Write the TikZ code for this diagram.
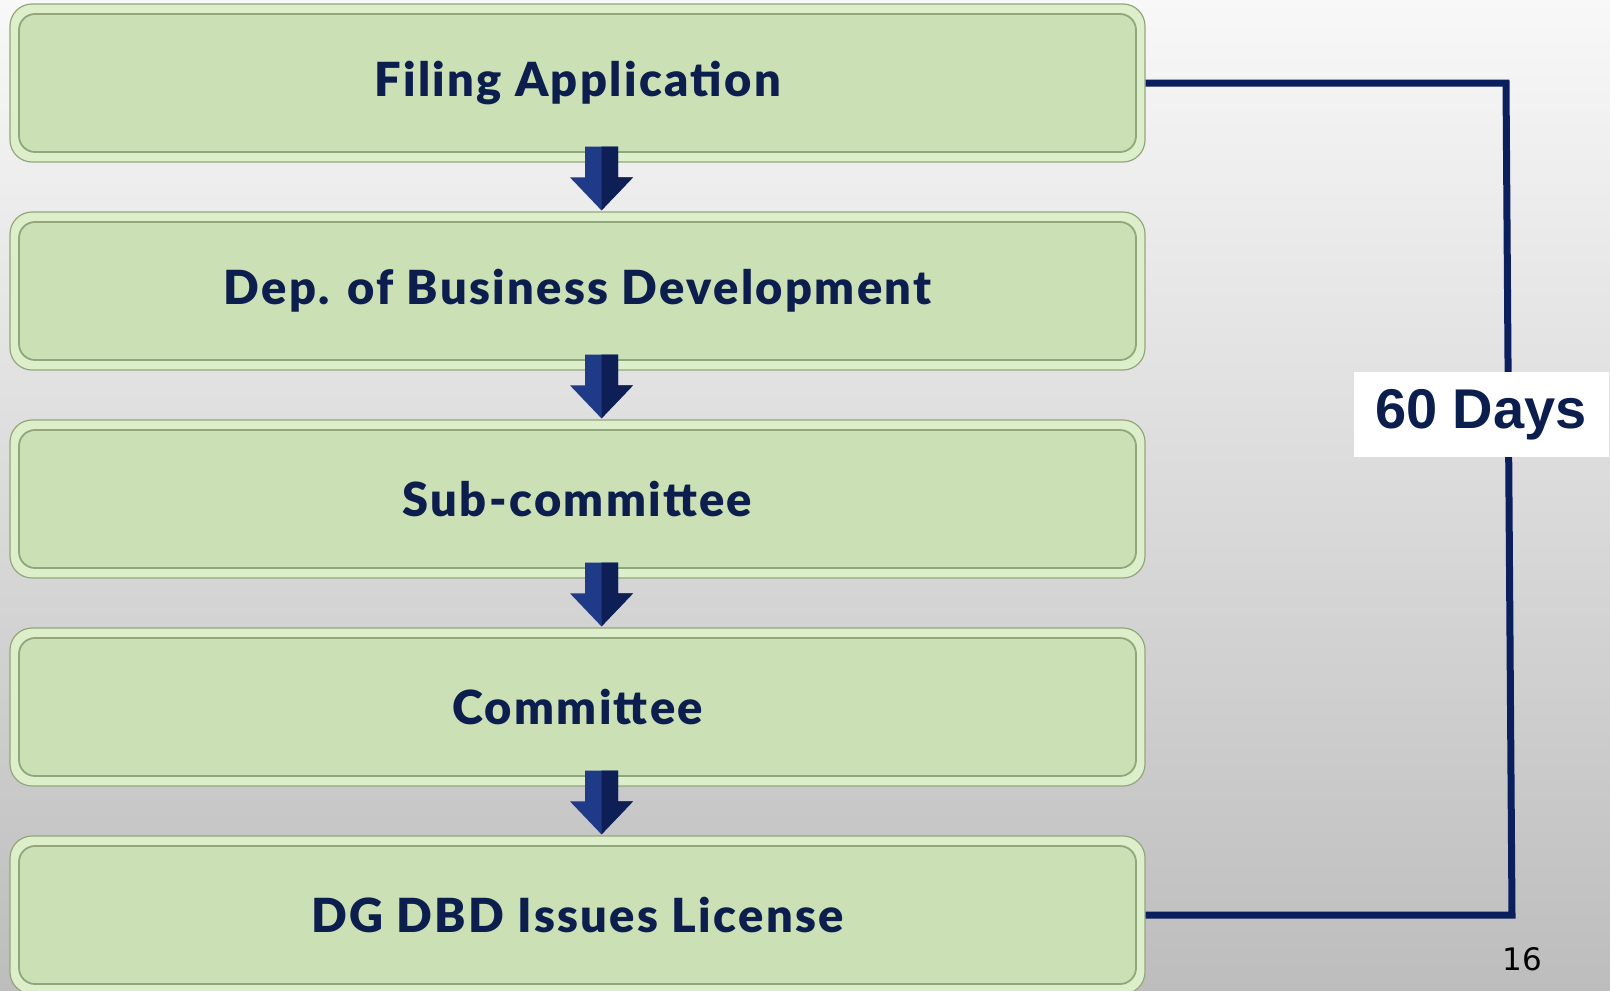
\documentclass[tikz,border=0pt]{standalone}
\usepackage{fontspec}
\setmainfont{Lato}[LetterSpace=5,BoldFont={Lato Black}]
\newfontfamily\labfont{Liberation Sans}
\newfontfamily\numfont{DejaVu Sans}
\usetikzlibrary{calc}
\definecolor{boxmain}{HTML}{CCE0B5}
\definecolor{boxrim}{HTML}{DDEECB}
\definecolor{boxedge}{HTML}{92A67C}
\definecolor{navy}{HTML}{0B1F5E}
\definecolor{txtnavy}{HTML}{0C1E4E}
\definecolor{arrowlight}{HTML}{1F3B88}
\definecolor{arrowdark}{HTML}{0D1F55}
\definecolor{bgtop}{HTML}{F8F8F8}
\definecolor{bgbot}{HTML}{BDBDBD}
\newcommand\flowarrow[2]{%
  \fill[arrowlight] ($(#1.south)+(7.5pt,16pt)$) -- ($(#1.south)+(40.5pt,16pt)$)
    -- ($(#2.north)+(40.5pt,34pt)$) -- ($(#2.north)+(55.5pt,34pt)$)
    -- ($(#2.north)+(24pt,1pt)$) -- ($(#2.north)+(-7.5pt,34pt)$)
    -- ($(#2.north)+(7.5pt,34pt)$) -- cycle;
  \fill[arrowdark] ($(#1.south)+(24pt,16pt)$) -- ($(#1.south)+(40.5pt,16pt)$)
    -- ($(#2.north)+(40.5pt,34pt)$) -- ($(#2.north)+(55.5pt,34pt)$)
    -- ($(#2.north)+(24pt,1pt)$) -- ($(#2.north)+(24pt,24pt)$) -- cycle;
}
\begin{document}
\begin{tikzpicture}[x=1pt,y=-1pt,
  stepbox/.style={draw=boxedge, line width=1.2pt, fill=boxrim, rounded corners=22pt,
    minimum width=1135pt, minimum height=158pt, inner sep=0pt,
    font=\fontsize{47}{50}\selectfont\bfseries, text=txtnavy,
    path picture={\draw[fill=boxmain, draw=boxedge, line width=1.8pt, rounded corners=16pt]
      ([shift={(9pt,-10pt)}]path picture bounding box.north west) rectangle
      ([shift={(-9pt,10pt)}]path picture bounding box.south east);}},
  link/.style={draw=navy, line width=7pt},
]
\useasboundingbox (0,0) rectangle (1610,991);
\shade[top color=bgtop, bottom color=bgbot] (0,0) rectangle (1610,991);

\node[stepbox] (b1) at (577.5,83) {Filing Application};
\node[stepbox] (b2) at (577.5,291) {Dep. of Business Development};
\node[stepbox] (b3) at (577.5,499) {Sub-committee};
\node[stepbox] (b4) at (577.5,707) {Committee};
\node[stepbox] (b5) at (577.5,915) {DG DBD Issues License};

\flowarrow{b1}{b2}
\flowarrow{b2}{b3}
\flowarrow{b3}{b4}
\flowarrow{b4}{b5}

\coordinate (c1) at (1506,83);
\coordinate (c2) at (1512,915);
\draw[link] (b1.east) -- (c1) -- (c2) -- (b5.east);

\node[fill=white, minimum width=255pt, minimum height=85pt, inner sep=0pt,
  font=\labfont\bfseries\fontsize{56}{58}\selectfont, text=txtnavy] (days) at (1481,414.5) {60 Days};

\node[anchor=base east, inner sep=0pt, font=\numfont\fontsize{31}{34}\selectfont, text=black] (pg) at (1542,970) {16};
\end{tikzpicture}
\end{document}
